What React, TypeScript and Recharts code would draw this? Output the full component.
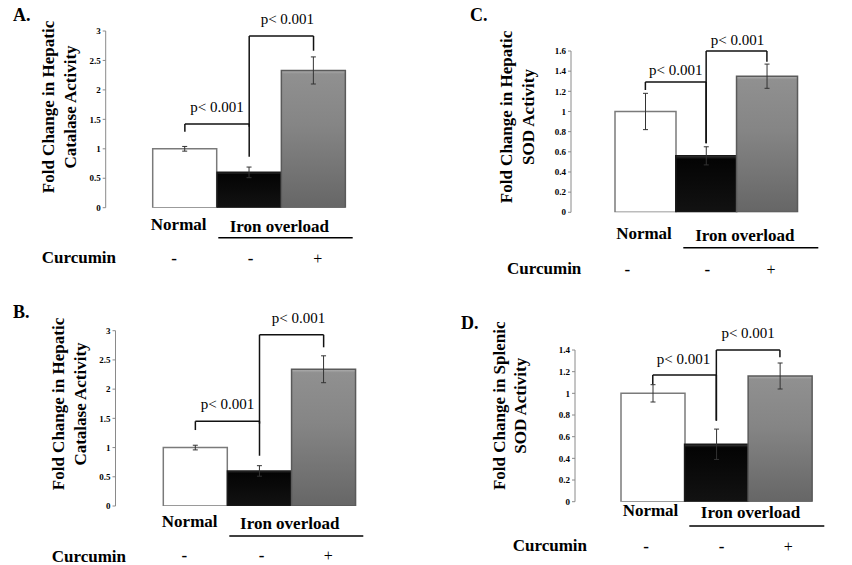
import React from 'react';
import { BarChart, Bar, XAxis, YAxis, Cell, ErrorBar, ReferenceLine } from 'recharts';

const W = 852;
const H = 565;
const FONT = '"Liberation Serif", "Times New Roman", Times, serif';

// ---- data ----
const groups = ['Normal', 'Iron overload', 'Iron overload + Curcumin'];

const hepaticCatalaseA = [1.0, 0.6, 2.33];
const hepaticCatalaseErrA = [0.04, 0.09, 0.23];

const hepaticCatalaseB = [1.0, 0.6, 2.34];
const hepaticCatalaseErrB = [0.04, 0.09, 0.23];

const hepaticSodC = [1.0, 0.56, 1.35];
const hepaticSodErrC = [0.18, 0.09, 0.12];

const splenicSodD = [1.0, 0.53, 1.16];
const splenicSodErrD = [0.08, 0.14, 0.12];

const ticks3 = [0, 0.5, 1, 1.5, 2, 2.5, 3];
const ticks16 = [0, 0.2, 0.4, 0.6, 0.8, 1, 1.2, 1.4, 1.6];
const ticks14 = [0, 0.2, 0.4, 0.6, 0.8, 1, 1.2, 1.4];

const pLabel = 'p< 0.001';

// significance brackets: [fromGroup, toGroup, topValue, leftLegBottom, rightLegBottom]
const bracketsA = [
  [0, 1, 1.42, 1.29, 1.375],
  [1, 2, 2.915, 0.866, 2.665],
];
const bracketsB = [
  [0, 1, 1.45, 1.3, 1.41],
  [1, 2, 2.93, 0.86, 2.716],
];
const bracketsC = [
  [0, 1, 1.293, 1.213, 0.685],
  [1, 2, 1.6, 0.685, 1.494],
];
const bracketsD = [
  [0, 1, 1.169, 1.083, 0.748],
  [1, 2, 1.4, 0.748, 1.333],
];

// ---- layout (page pixel coordinates) ----
type Layout = {
  id: string;
  plot: { left: number; top: number; right: number; bottom: number };
  pad: [number, number];
  labelOffsets: [number, number][]; // [offset, dx] per bracket
  letter: { t: string; x: number; y: number };
  title: { lines: string[]; xs: number[]; y: number };
  normal: [number, number];
  iron: [number, number];
  underline: [number, number, number];
  curcumin: [number, number];
  marksX: number[];
  marksY: number;
};

const layoutA: Layout = {
  id: 'A',
  plot: { left: 105.7, top: 31, right: 393, bottom: 207.7 },
  pad: [47, 47.3],
  labelOffsets: [[11.7, 0], [12, 6]],
  letter: { t: 'A.', x: 13, y: 15 },
  title: { lines: ['Fold Change in Hepatic', 'Catalase Activity'], xs: [48.3, 70], y: 107 },
  normal: [178.7, 224],
  iron: [279.3, 226],
  underline: [218.3, 352.7, 237.7],
  curcumin: [41.7, 257.3],
  marksX: [174, 250.7, 317.7],
  marksY: 258,
};

const layoutB: Layout = {
  id: 'B',
  plot: { left: 115.5, top: 330.7, right: 404, bottom: 506 },
  pad: [47.8, 48.3],
  labelOffsets: [[12, 0], [11.4, 7]],
  letter: { t: 'B.', x: 13, y: 312 },
  title: { lines: ['Fold Change in Hepatic', 'Catalase Activity'], xs: [58.3, 80], y: 404 },
  normal: [189.7, 521.7],
  iron: [289.7, 523.3],
  underline: [229.3, 363.3, 536],
  curcumin: [51.7, 556],
  marksX: [184.3, 261.7, 328.3],
  marksY: 555.5,
};

const layoutC: Layout = {
  id: 'C',
  plot: { left: 571, top: 51, right: 841.7, bottom: 212.3 },
  pad: [44, 44.4],
  labelOffsets: [[7, 0], [6, 1]],
  letter: { t: 'C.', x: 470, y: 15 },
  title: { lines: ['Fold Change in Hepatic', 'SOD Activity'], xs: [506, 528.3], y: 117 },
  normal: [644, 233.3],
  iron: [744.8, 235],
  underline: [683.3, 818.3, 247.7],
  curcumin: [507, 268],
  marksX: [627.3, 707.3, 771],
  marksY: 269,
};

const layoutD: Layout = {
  id: 'D',
  plot: { left: 575, top: 350, right: 846, bottom: 501.7 },
  pad: [46, 34.3],
  labelOffsets: [[11, -1], [11.7, 0]],
  letter: { t: 'D.', x: 461, y: 323 },
  title: { lines: ['Fold Change in Splenic', 'SOD Activity'], xs: [499, 520], y: 405.8 },
  normal: [650.5, 510.7],
  iron: [750.5, 512.3],
  underline: [689.3, 824.3, 526],
  curcumin: [512.7, 545],
  marksX: [646, 721.7, 788.3],
  marksY: 546,
};

type PanelProps = {
  values: number[];
  errors: number[];
  ticks: number[];
  brackets: number[][];
  layout: Layout;
};

function Panel({ values, errors, ticks, brackets, layout }: PanelProps) {
  const data = groups.map((g, i) => ({ name: g, value: values[i], err: errors[i] }));
  const max = ticks[ticks.length - 1];
  const { plot, pad, id } = layout;
  const fills = ['#ffffff', `url(#black-${id})`, `url(#gray-${id})`];
  const strokes = ['#7a7a7a', '#1a1a1a', '#5a5a5a'];
  const lineProps = { stroke: '#111', strokeWidth: 1.5, ifOverflow: 'visible' as const };

  const refs: React.ReactNode[] = [];
  brackets.forEach((b, bi) => {
    const [from, to, top, lb, rb] = b;
    const [offset, dx] = layout.labelOffsets[bi];
    refs.push(
      <ReferenceLine
        key={`l${bi}`}
        {...lineProps}
        segment={[{ x: groups[from], y: lb }, { x: groups[from], y: top }]}
      />
    );
    refs.push(
      <ReferenceLine
        key={`h${bi}`}
        {...lineProps}
        segment={[{ x: groups[from], y: top }, { x: groups[to], y: top }]}
        label={{
          value: pLabel,
          position: 'top',
          offset,
          dx,
          fill: '#000',
          fontSize: 15,
          fontFamily: FONT,
        }}
      />
    );
    refs.push(
      <ReferenceLine
        key={`r${bi}`}
        {...lineProps}
        segment={[{ x: groups[to], y: top }, { x: groups[to], y: rb }]}
      />
    );
  });

  return (
    <div style={{ position: 'absolute', left: 0, top: 0 }}>
      <BarChart
        width={W}
        height={H}
        data={data}
        margin={{ top: plot.top, right: W - plot.right, bottom: H - plot.bottom, left: 0 }}
        barCategoryGap={0}
        barGap={0}
      >
        <defs>
          <linearGradient id={`black-${id}`} x1="0" y1="0" x2="0" y2="1">
            <stop offset="0" stopColor="#4a4a4a" />
            <stop offset="0.03" stopColor="#1c1c1c" />
            <stop offset="0.06" stopColor="#040404" />
            <stop offset="1" stopColor="#121212" />
          </linearGradient>
          <linearGradient id={`gray-${id}`} x1="0" y1="0" x2="0" y2="1">
            <stop offset="0" stopColor="#b0b0b0" />
            <stop offset="0.025" stopColor="#909090" />
            <stop offset="0.4" stopColor="#858585" />
            <stop offset="1" stopColor="#666666" />
          </linearGradient>
        </defs>
        <XAxis
          dataKey="name"
          type="category"
          padding={{ left: pad[0], right: pad[1] }}
          tick={false}
          tickLine={false}
          axisLine={{ stroke: '#8a8a8a' }}
          height={0}
        />
        <YAxis
          type="number"
          domain={[0, max]}
          ticks={ticks}
          interval={0}
          width={plot.left}
          tickSize={3}
          tickMargin={2}
          allowDataOverflow
          axisLine={{ stroke: '#8a8a8a' }}
          tickLine={{ stroke: '#8a8a8a' }}
          tick={{ fontSize: 9, fontWeight: 'bold', fill: '#000', fontFamily: FONT }}
        />
        <Bar dataKey="value" isAnimationActive={false}>
          {data.map((d, i) => (
            <Cell key={d.name} fill={fills[i]} stroke={strokes[i]} strokeWidth={1.5} />
          ))}
          <ErrorBar
            dataKey="err"
            width={2.5}
            stroke="#333"
            strokeWidth={1}
            direction="y"
            isAnimationActive={false}
          />
        </Bar>
        {refs}
      </BarChart>
    </div>
  );
}

function PanelText({ layout }: { layout: Layout }) {
  const bold = { fontFamily: FONT, fontWeight: 'bold' as const, fill: '#000' };
  return (
    <g>
      <text x={layout.letter.x} y={layout.letter.y} dominantBaseline="central" fontSize={18} {...bold}>
        {layout.letter.t}
      </text>
      {layout.title.lines.map((ln, i) => (
        <text
          key={ln}
          transform={`translate(${layout.title.xs[i]}, ${layout.title.y}) rotate(-90)`}
          textAnchor="middle"
          dominantBaseline="central"
          fontSize={17}
          {...bold}
        >
          {ln}
        </text>
      ))}
      <text x={layout.normal[0]} y={layout.normal[1]} textAnchor="middle" dominantBaseline="central" fontSize={17} {...bold}>
        Normal
      </text>
      <text x={layout.iron[0]} y={layout.iron[1]} textAnchor="middle" dominantBaseline="central" fontSize={17} {...bold}>
        Iron overload
      </text>
      <line
        x1={layout.underline[0]}
        x2={layout.underline[1]}
        y1={layout.underline[2]}
        y2={layout.underline[2]}
        stroke="#000"
        strokeWidth={1.5}
      />
      <text x={layout.curcumin[0]} y={layout.curcumin[1]} dominantBaseline="central" fontSize={17} {...bold}>
        Curcumin
      </text>
      <text x={layout.marksX[0]} y={layout.marksY} textAnchor="middle" dominantBaseline="central" fontSize={17} {...bold}>
        -
      </text>
      <text x={layout.marksX[1]} y={layout.marksY} textAnchor="middle" dominantBaseline="central" fontSize={17} {...bold}>
        -
      </text>
      <text
        x={layout.marksX[2]}
        y={layout.marksY}
        textAnchor="middle"
        dominantBaseline="central"
        fontSize={16}
        fontFamily={FONT}
        fill="#000"
      >
        +
      </text>
    </g>
  );
}

export default function App() {
  return (
    <div style={{ position: 'absolute', left: 0, top: 0, width: W, height: H, background: '#fff', overflow: 'hidden' }}>
      <Panel values={hepaticCatalaseA} errors={hepaticCatalaseErrA} ticks={ticks3} brackets={bracketsA} layout={layoutA} />
      <Panel values={hepaticCatalaseB} errors={hepaticCatalaseErrB} ticks={ticks3} brackets={bracketsB} layout={layoutB} />
      <Panel values={hepaticSodC} errors={hepaticSodErrC} ticks={ticks16} brackets={bracketsC} layout={layoutC} />
      <Panel values={splenicSodD} errors={splenicSodErrD} ticks={ticks14} brackets={bracketsD} layout={layoutD} />
      <svg width={W} height={H} style={{ position: 'absolute', left: 0, top: 0, pointerEvents: 'none' }}>
        <PanelText layout={layoutA} />
        <PanelText layout={layoutB} />
        <PanelText layout={layoutC} />
        <PanelText layout={layoutD} />
      </svg>
    </div>
  );
}
